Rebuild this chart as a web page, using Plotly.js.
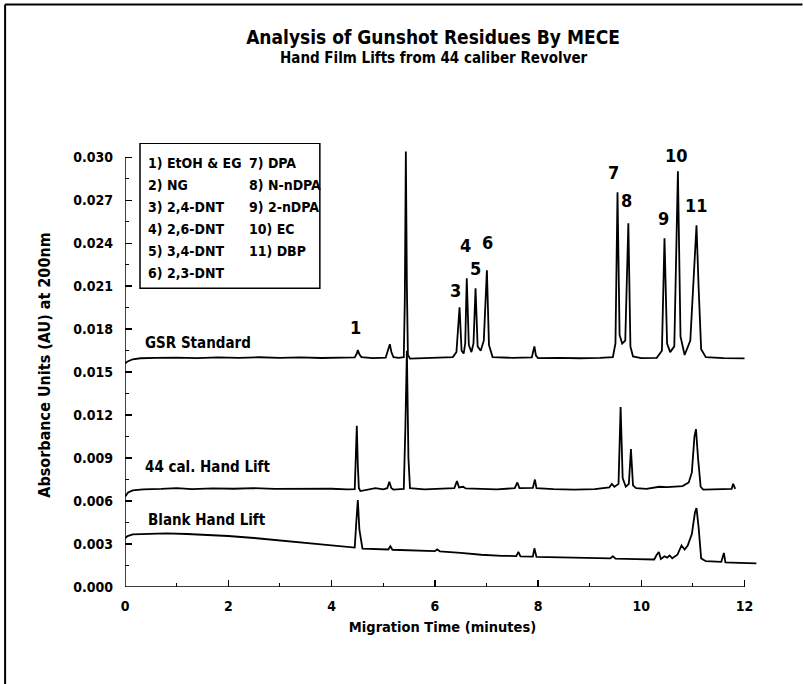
<!DOCTYPE html>
<html>
<head>
<meta charset="utf-8">
<script src="https://cdn.plot.ly/plotly-3.0.1.min.js"></script>
<style>html,body{margin:0;padding:0;background:#fff;}#chart{width:803px;height:684px;}</style>
</head>
<body>
<div id="chart"></div>
<script>
// ---- Data ----
// GSR Standard electropherogram (time in minutes, absorbance in AU)
var gsrT = [0.00,0.05,0.15,0.30,0.60,1.00,1.40,1.80,2.20,2.60,3.00,3.40,3.80,4.20,4.45,4.49,4.51,4.54,4.58,4.80,5.05,5.10,5.13,5.16,5.20,5.30,5.40,5.42,5.44,5.46,5.48,5.52,5.80,6.10,6.35,6.42,6.48,6.52,6.56,6.59,6.62,6.66,6.71,6.75,6.79,6.83,6.89,6.95,7.01,7.05,7.12,7.50,7.88,7.91,7.93,7.96,8.00,8.40,8.80,9.20,9.45,9.50,9.54,9.58,9.63,9.69,9.75,9.79,9.84,10.00,10.30,10.40,10.45,10.50,10.56,10.64,10.71,10.76,10.84,10.95,11.03,11.07,11.11,11.16,11.25,11.60,12.00];
var gsrA = [0.01560,0.01575,0.01590,0.01597,0.01600,0.01602,0.01598,0.01603,0.01600,0.01604,0.01600,0.01603,0.01599,0.01602,0.01603,0.01630,0.01655,0.01625,0.01605,0.01598,0.01602,0.01660,0.01695,0.01640,0.01605,0.01600,0.01605,0.02000,0.03040,0.02100,0.01620,0.01595,0.01600,0.01602,0.01605,0.01640,0.01953,0.01650,0.01630,0.01700,0.02156,0.01690,0.01640,0.01700,0.02086,0.01680,0.01650,0.01720,0.02212,0.01690,0.01605,0.01600,0.01603,0.01650,0.01680,0.01615,0.01598,0.01600,0.01597,0.01600,0.01605,0.01700,0.02756,0.01760,0.01700,0.01720,0.02540,0.01680,0.01610,0.01598,0.01600,0.01650,0.02435,0.01700,0.01640,0.01680,0.02902,0.01750,0.01620,0.01720,0.02200,0.02526,0.02100,0.01660,0.01605,0.01598,0.01596];

// 44 cal. Hand Lift
var calT = [0.00,0.06,0.15,0.35,0.70,1.00,1.30,1.70,2.10,2.50,2.90,3.30,3.70,4.00,4.30,4.45,4.47,4.49,4.51,4.53,4.56,4.70,4.85,5.00,5.08,5.12,5.16,5.20,5.40,5.43,5.46,5.49,5.52,5.80,6.10,6.38,6.43,6.47,6.55,6.60,6.90,7.20,7.55,7.60,7.64,7.90,7.94,7.97,8.30,8.70,9.10,9.38,9.43,9.48,9.56,9.60,9.64,9.70,9.76,9.80,9.84,9.90,10.10,10.25,10.35,10.50,10.65,10.80,10.92,10.98,11.03,11.06,11.10,11.15,11.20,11.40,11.60,11.75,11.78,11.82];
var calA = [0.00630,0.00660,0.00675,0.00682,0.00685,0.00690,0.00684,0.00688,0.00686,0.00690,0.00685,0.00686,0.00683,0.00686,0.00682,0.00684,0.00900,0.01125,0.00850,0.00690,0.00670,0.00680,0.00690,0.00682,0.00690,0.00735,0.00690,0.00680,0.00685,0.01100,0.01650,0.00900,0.00690,0.00682,0.00685,0.00690,0.00740,0.00695,0.00700,0.00688,0.00685,0.00682,0.00690,0.00730,0.00690,0.00692,0.00750,0.00690,0.00684,0.00680,0.00683,0.00695,0.00720,0.00700,0.00720,0.01256,0.00760,0.00700,0.00720,0.00963,0.00710,0.00690,0.00685,0.00695,0.00700,0.00698,0.00700,0.00705,0.00730,0.00800,0.01050,0.01102,0.00900,0.00700,0.00680,0.00682,0.00680,0.00685,0.00720,0.00685];

// Blank Hand Lift
var blkT = [0.00,0.05,0.15,0.40,0.80,1.20,1.60,2.00,2.50,3.00,3.50,4.00,4.45,4.48,4.51,4.54,4.60,5.10,5.14,5.18,5.50,6.00,6.05,6.10,6.50,6.90,7.30,7.58,7.62,7.66,7.90,7.93,7.97,8.30,8.80,9.20,9.40,9.45,9.50,9.90,10.25,10.30,10.34,10.38,10.45,10.50,10.55,10.60,10.70,10.78,10.84,10.90,10.98,11.04,11.07,11.11,11.16,11.25,11.55,11.60,11.63,11.90,12.23];
var blkA = [0.00340,0.00355,0.00368,0.00372,0.00374,0.00370,0.00364,0.00356,0.00342,0.00325,0.00305,0.00290,0.00275,0.00450,0.00607,0.00400,0.00268,0.00262,0.00285,0.00260,0.00255,0.00250,0.00262,0.00248,0.00238,0.00225,0.00218,0.00216,0.00245,0.00214,0.00212,0.00270,0.00210,0.00208,0.00204,0.00200,0.00200,0.00215,0.00198,0.00195,0.00192,0.00225,0.00245,0.00195,0.00215,0.00205,0.00220,0.00200,0.00225,0.00290,0.00262,0.00290,0.00370,0.00520,0.00551,0.00420,0.00200,0.00180,0.00175,0.00238,0.00172,0.00168,0.00165];

var traceNames = ['GSR Standard', '44 cal. Hand Lift', 'Blank Hand Lift'];
var peakLabels = ['1','2','3','4','5','6','7','8','9','10','11'];
var legendItems = ['1) EtOH & EG','2) NG','3) 2,4-DNT','4) 2,6-DNT','5) 3,4-DNT','6) 2,3-DNT',
                   '7) DPA','8) N-nDPA','9) 2-nDPA','10) EC','11) DBP'];
var xTicks = [0,2,4,6,8,10,12];
var yTicks = [0.000,0.003,0.006,0.009,0.012,0.015,0.018,0.021,0.024,0.027,0.030];

// ---- Layout geometry ----
var W = 803, H = 684;
var L = 125, PX_PER_MIN = 620/12, PX_PER_AU = 430/0.030, Y0 = 587;
var xRange = [0, 12.3], yRange = [0, 0.031];
var plotW = (xRange[1]-xRange[0])*PX_PER_MIN;
var plotH = (yRange[1]-yRange[0])*PX_PER_AU;
var R = W - L - plotW, T = Y0 - plotH, B = H - Y0;
function tx(px){ return (px - L)/PX_PER_MIN; }
function ay(py){ return (Y0 - py)/PX_PER_AU; }
function paperX(px){ return (px - L)/plotW; }
function paperY(py){ return (Y0 - py)/plotH; }

var FONT = '"Liberation Sans Narrow", "Arial Narrow", "DejaVu Sans Condensed", sans-serif';
var lineStyle = {color:'#000', width:1.8};

var traces = [
  {x: gsrT, y: gsrA, name: traceNames[0], mode:'lines', line: lineStyle, hoverinfo:'skip'},
  {x: calT, y: calA, name: traceNames[1], mode:'lines', line: lineStyle, hoverinfo:'skip'},
  {x: blkT, y: blkA, name: traceNames[2], mode:'lines', line: lineStyle, hoverinfo:'skip'}
];

// peak label pixel positions (centre of text)
var peakLabelPos = [[356,327],[406,133],[456,290],[466,245],[476,268],[488,242],[614,172],[627,200],[664,218],[677,155],[697,205]];
var annotations = [];
peakLabels.forEach(function(t,i){
  annotations.push({x: tx(peakLabelPos[i][0]), y: ay(peakLabelPos[i][1]), xref:'x', yref:'y', text:t, showarrow:false,
    xanchor:'center', yanchor:'middle', font:{family:FONT, size:18, weight:700, color:'#000'}});
});
// legend box text
var legRows = [163,185,207,229,251,273];
legendItems.forEach(function(t,i){
  var col = i < 6 ? 0 : 1, row = i < 6 ? i : i-6;
  annotations.push({x: tx(col===0 ? 146 : 247), y: ay(legRows[row]), xref:'x', yref:'y', text:t, showarrow:false,
    xanchor:'left', yanchor:'middle', font:{family:FONT, size:14, weight:700, color:'#000'}});
});
// trace name labels
var nameLabelPos = [[143,343],[143,467],[146,520]];
traceNames.forEach(function(t,i){
  annotations.push({x: tx(nameLabelPos[i][0]), y: ay(nameLabelPos[i][1]), xref:'x', yref:'y', text:t, showarrow:false,
    xanchor:'left', yanchor:'middle', font:{family:FONT, size:15, weight:700, color:'#000'}});
});
// subtitle
annotations.push({x: paperX(434), y: paperY(58), xref:'paper', yref:'paper', text:'Hand Film Lifts from 44 caliber Revolver',
  showarrow:false, xanchor:'center', yanchor:'middle', font:{family:FONT, size:15, weight:700, color:'#000'}});

var shapes = [
  // axis lines (only over the labelled span)
  {type:'line', xref:'x', yref:'y', x0:0, x1:12, y0:0, y1:0, line:{color:'#000', width:1.5}},
  {type:'line', xref:'x', yref:'y', x0:0, x1:0, y0:0, y1:0.030, line:{color:'#000', width:1.5}},
  // legend box
  {type:'rect', xref:'x', yref:'y', x0:tx(140), x1:tx(320), y0:ay(288), y1:ay(143), line:{color:'#000', width:1.5}, fillcolor:'rgba(0,0,0,0)'},
  // figure frame (top and left edges)
  {type:'line', xref:'paper', yref:'paper', x0:paperX(5), x1:paperX(803), y0:paperY(4), y1:paperY(4), line:{color:'#000', width:2}},
  {type:'line', xref:'paper', yref:'paper', x0:paperX(5), x1:paperX(5), y0:paperY(4), y1:paperY(684), line:{color:'#000', width:2}}
];

var layout = {
  width: W, height: H,
  margin: {l: L, r: R, t: T, b: B, autoexpand:false},
  paper_bgcolor:'#fff', plot_bgcolor:'#fff',
  showlegend:false,
  font:{family:FONT, color:'#000'},
  title: {text:'Analysis of Gunshot Residues By MECE', xref:'container', yref:'container',
          x: 433/W, xanchor:'center', y: 1-37/H, yanchor:'middle',
          font:{family:FONT, size:19, weight:700, color:'#000'}},
  xaxis: {range:xRange, tickvals:xTicks, ticktext:xTicks.map(String), ticks:'inside', ticklen:7, tickwidth:1.5, tickcolor:'#000',
          showline:false, showgrid:false, zeroline:false, ticklabelstandoff:9,
          minor:{dtick:1, tick0:1, ticks:'inside', ticklen:4, tickwidth:1.2, tickcolor:'#000', showgrid:false},
          tickfont:{family:FONT, size:14, weight:700, color:'#000'},
          title:{text:'Migration Time (minutes)', standoff:8, font:{family:FONT, size:14.5, weight:700, color:'#000'}}},
  yaxis: {range:yRange, tickvals:yTicks, ticktext:yTicks.map(function(v){return v.toFixed(3);}), ticks:'inside', ticklen:7, tickwidth:1.5, tickcolor:'#000',
          showline:false, showgrid:false, zeroline:false, ticklabelstandoff:11,
          minor:{dtick:0.0015, tick0:0, ticks:'inside', ticklen:4, tickwidth:1.2, tickcolor:'#000', showgrid:false},
          tickfont:{family:FONT, size:14, weight:700, color:'#000'},
          title:{text:'Absorbance Units (AU) at 200nm', standoff:18, font:{family:FONT, size:16, weight:700, color:'#000'}}},
  annotations: annotations,
  shapes: shapes
};

Plotly.newPlot('chart', traces, layout, {displayModeBar:false, staticPlot:true});
</script>
</body>
</html>
